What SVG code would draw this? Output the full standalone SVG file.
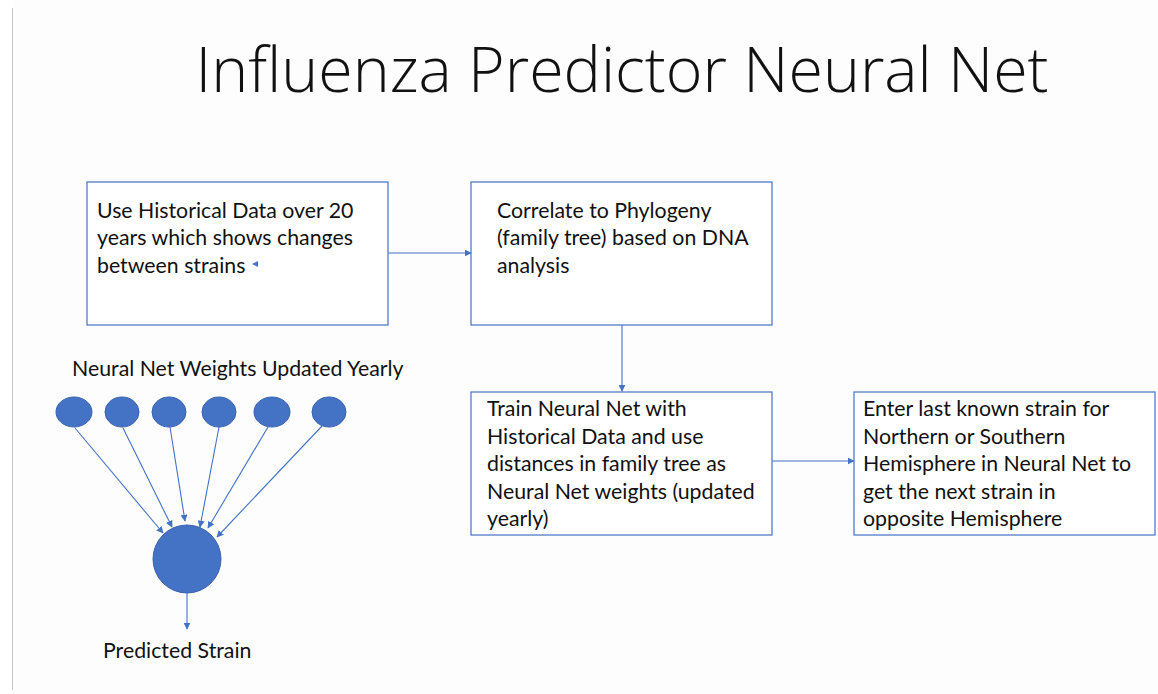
<svg xmlns="http://www.w3.org/2000/svg" width="1158" height="694" viewBox="0 0 1158 694">
  <style>
    .box { fill: #ffffff; stroke: #4472c4; stroke-width: 1.2; }
    .txt { font-family: Lato, "Open Sans", "Liberation Sans", sans-serif; font-size: 21.3px; fill: #111111; }
    .title { font-family: "Open Sans", Lato, "Liberation Sans", sans-serif; font-weight: 300; font-size: 62.7px; fill: #111111; }
    .link { stroke: #4472c4; stroke-width: 1.1; fill: none; marker-end: url(#arrow); }
    .neuron { fill: #4472c4; stroke: #3a62ad; stroke-width: 1; }
  </style>
  <defs>
    <marker id="arrow" viewBox="0 0 10 10" refX="9" refY="5" markerWidth="7" markerHeight="7" markerUnits="userSpaceOnUse" orient="auto">
      <path d="M0,0 L10,5 L0,10 z" fill="#4472c4"/>
    </marker>
  </defs>

  <rect x="0" y="0" width="1158" height="694" fill="#ffffff"/>
  <rect x="13" y="0" width="1145" height="694" fill="#fdfdfd"/>
  <line x1="12.5" y1="8" x2="12.5" y2="690" stroke="#c4c4c4" stroke-width="1"/>

  <text class="title" x="622" y="92" text-anchor="middle">Influenza Predictor Neural Net</text>

  <g id="node-history">
    <rect class="box" x="87" y="182" width="301" height="143"/>
    <text class="txt" x="97" y="218">Use Historical Data over 20</text>
    <text class="txt" x="97" y="245">years which shows changes</text>
    <text class="txt" x="97" y="273">between strains</text>
    <polygon points="252,264 258,261 258,267" fill="#4472c4"/>
  </g>

  <g id="node-phylogeny">
    <rect class="box" x="471" y="182" width="301" height="143"/>
    <text class="txt" x="497" y="218">Correlate to Phylogeny</text>
    <text class="txt" x="497" y="245">(family tree) based on DNA</text>
    <text class="txt" x="497" y="273">analysis</text>
  </g>

  <g id="node-train">
    <rect class="box" x="471" y="392" width="301" height="143"/>
    <text class="txt" x="487" y="416">Train Neural Net with</text>
    <text class="txt" x="487" y="444">Historical Data and use</text>
    <text class="txt" x="487" y="471">distances in family tree as</text>
    <text class="txt" x="487" y="499">Neural Net weights (updated</text>
    <text class="txt" x="487" y="526">yearly)</text>
  </g>

  <g id="node-enter">
    <rect class="box" x="854" y="392" width="301" height="143"/>
    <text class="txt" x="863" y="416">Enter last known strain for</text>
    <text class="txt" x="863" y="444">Northern or Southern</text>
    <text class="txt" x="863" y="471">Hemisphere in Neural Net to</text>
    <text class="txt" x="863" y="499">get the next strain in</text>
    <text class="txt" x="863" y="526">opposite Hemisphere</text>
  </g>

  <g id="node-network">
    <text class="txt" x="72" y="376">Neural Net Weights Updated Yearly</text>
    <ellipse class="neuron" cx="74" cy="412" rx="18" ry="15"/>
    <ellipse class="neuron" cx="122" cy="412" rx="17" ry="15"/>
    <ellipse class="neuron" cx="169" cy="412" rx="17" ry="15"/>
    <ellipse class="neuron" cx="219" cy="412" rx="17" ry="15"/>
    <ellipse class="neuron" cx="272" cy="412" rx="18" ry="15"/>
    <ellipse class="neuron" cx="329" cy="412" rx="17" ry="15"/>
    <circle class="neuron" cx="187" cy="559" r="34"/>
  </g>

  <g id="node-predicted">
    <text class="txt" x="103" y="658">Predicted Strain</text>
  </g>

  <g id="connectors">
    <line class="link" x1="388" y1="253" x2="471" y2="253"/>
    <line class="link" x1="622" y1="325" x2="622" y2="391"/>
    <line class="link" x1="772" y1="461" x2="854" y2="461"/>
    <line class="link" x1="75" y1="428" x2="163" y2="533"/>
    <line class="link" x1="123" y1="428" x2="172" y2="527"/>
    <line class="link" x1="170" y1="427" x2="185" y2="521"/>
    <line class="link" x1="219" y1="427" x2="200" y2="527"/>
    <line class="link" x1="268" y1="427" x2="208" y2="528"/>
    <line class="link" x1="322" y1="426" x2="217" y2="537"/>
    <line class="link" x1="187" y1="593" x2="187" y2="629"/>
  </g>
</svg>
